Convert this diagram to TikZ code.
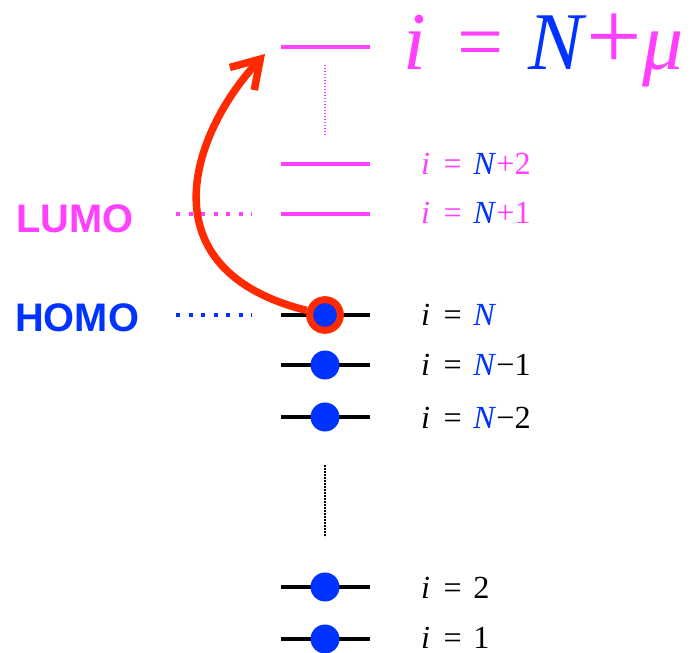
\documentclass[tikz,border=0pt]{standalone}
\usepackage{fontspec}
\setmainfont{Liberation Serif}
\newfontfamily\orbitfont{Liberation Sans}
\usetikzlibrary{arrows.meta}
\definecolor{unocc}{RGB}{255,64,255}
\definecolor{occ}{RGB}{0,51,255}
\definecolor{jump}{RGB}{255,42,0}
\newcommand{\eqsp}{\hspace{0.42em}=\hspace{0.36em}}
\begin{document}
\begin{tikzpicture}[
  x=0.03cm, y=-0.03cm,
  level/.style={line width=0.1cm},
  electron/.style={circle, fill=occ, inner sep=0pt, minimum size=0.87cm},
  hole/.style={electron, draw=jump, line width=0.21cm, minimum size=0.92cm},
  idx/.style={anchor=base west, inner sep=0pt, font=\fontsize{27.5}{32}\selectfont},
  orbital/.style={anchor=base west, inner sep=0pt,
                  font=\orbitfont\bfseries\fontsize{34}{40}\selectfont},
  guide/.style={line width=0.12cm, dash pattern=on 0.12cm off 0.255cm},
  gap/.style={line width=0.05cm, dash pattern=on 0.045cm off 0.045cm},
  excite/.style={jump, line width=0.225cm,
                 -{Straight Barb[length=0.8cm, width=1cm]}}
]
\useasboundingbox (0,0) rectangle (693,653);

% empty levels
\draw[level, unocc] (281,47) -- (370,47);
\draw[level, unocc] (281,164) -- (370,164);
\draw[level, unocc] (281,214) -- (370,214);
\draw[gap, unocc] (325,65) -- (325,137);

% filled levels
\draw[level] (281,315) -- (370,315);
\draw[level] (281,365) -- (370,365);
\draw[level] (281,417) -- (370,417);
\draw[gap] (325,465) -- (325,537);
\draw[level] (281,587) -- (370,587);
\draw[level] (281,639) -- (370,639);

\node[hole] (homo) at (325,315) {};
\node[electron] (eNm1) at (325,365) {};
\node[electron] (eNm2) at (325,417) {};
\node[electron] (e2) at (325,587) {};
\node[electron] (e1) at (325,639) {};

% labels
\node[idx, text=unocc, font=\fontsize{70}{80}\selectfont] (lblTop) at (403,70)
  {\textit{i}\hspace{0.38em}=\hspace{0.3em}{\color{occ}\textit{N}}{\fontsize{84}{84}\selectfont +}\textit{μ}};
\node[idx, text=unocc] (lblNp2) at (421,175) {\textit{i}\eqsp{\color{occ}\textit{N}}+2};
\node[idx, text=unocc] (lblNp1) at (421,224) {\textit{i}\eqsp{\color{occ}\textit{N}}+1};
\node[idx] (lblN) at (421,326) {\textit{i}\eqsp{\color{occ}\textit{N}}};
\node[idx] (lblNm1) at (421,376) {\textit{i}\eqsp{\color{occ}\textit{N}}−1};
\node[idx] (lblNm2) at (421,428) {\textit{i}\eqsp{\color{occ}\textit{N}}−2};
\node[idx] (lbl2) at (421,598) {\textit{i}\eqsp 2};
\node[idx] (lbl1) at (421,648) {\textit{i}\eqsp 1};

\node[orbital, text=unocc] (lumo) at (16,233) {LUMO};
\node[orbital, text=occ] (homoLbl) at (15,332) {HOMO};
\draw[guide, unocc] (176,214) -- (252,214);
\draw[guide, occ] (176,315) -- (252,315);

% excitation
\coordinate (tip) at (265,54);
\draw[excite] (homo) .. controls (145,270) and (190,135) .. (tip);
\end{tikzpicture}
\end{document}
